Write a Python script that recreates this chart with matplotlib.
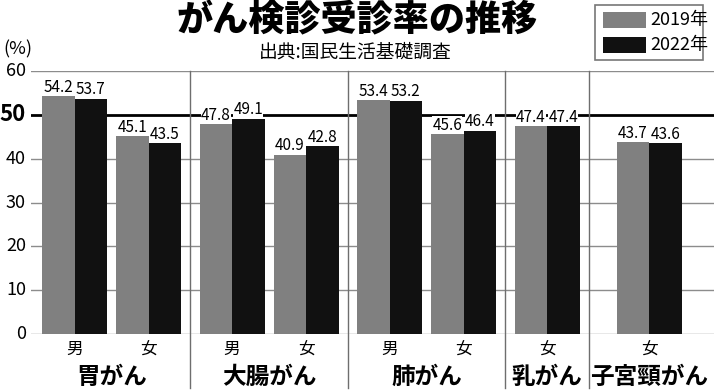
import numpy as np
import matplotlib
matplotlib.use("Agg")
import matplotlib.pyplot as plt
from matplotlib.patches import Rectangle

# data
cancers = ["胃がん", "大腸がん", "肺がん", "乳がん", "子宮頸がん"]
sexes = [["男", "女"], ["男", "女"], ["男", "女"], ["女"], ["女"]]
rate_2019 = [[54.2, 45.1], [47.8, 40.9], [53.4, 45.6], [47.4], [43.7]]
rate_2022 = [[53.7, 43.5], [49.1, 42.8], [53.2, 46.4], [47.4], [43.6]]
years = ["2019年", "2022年"]
yticks = [0, 10, 20, 30, 40, 50, 60]

JP = ["Noto Sans CJK JP", "DejaVu Sans"]
NUM = ["Liberation Sans Narrow", "Noto Sans CJK JP", "DejaVu Sans"]
GRAY = "#808080"
BLACK = "#111111"

W, H = 714, 390
fig = plt.figure(figsize=(W / 100, H / 100), dpi=100)
# axes in pixel layout: x 31..714, y=60 at 71px, y=0 at 334px
ax = fig.add_axes([31 / W, (H - 334) / H, (W - 31) / W, (334 - 71) / H])
ax.set_xlim(31, W)
ax.set_ylim(0, 60)
for s in ax.spines.values():
    s.set_visible(False)
ax.set_xticks([])
ax.set_yticks([])

# gridlines
for t in yticks:
    if t == 50:
        ax.axhline(t, color="black", lw=2.0, zorder=1)
    else:
        ax.axhline(t, color="#8c8c8c", lw=1.0, zorder=1)
    ax.text(26, t, str(t), ha="right", va="center",
            fontsize=16 if t == 50 else 13, fontweight="bold" if t == 50 else "normal",
            family=NUM, clip_on=False)

# bar layout (pixels)
bw = 32.5
pair_gap = 9
group_gap = 18.5
x = 42
seps = []
for gi, (cname, sx, v19, v22) in enumerate(zip(cancers, sexes, rate_2019, rate_2022)):
    if gi == len(cancers) - 1:
        # last group centred in the remaining room
        x = (seps[-1] + W) / 2 - bw - 2
    starts = []
    for k in range(len(sx)):
        starts.append(x)
        x += 2 * bw + pair_gap
    x -= pair_gap
    for k, st in enumerate(starts):
        for j, (val, col) in enumerate([(v19[k], GRAY), (v22[k], BLACK)]):
            ax.bar(st + j * bw, val, width=bw, align="edge", color=col,
                   edgecolor="none", zorder=3)
            ax.text(st + j * bw + bw / 2, val + 1.0, f"{val:.1f}", ha="center",
                    va="baseline", fontsize=11, family=NUM, zorder=4,
                    bbox=dict(facecolor="white", edgecolor="none", pad=0.2))
        ax.text(st + bw, -3.6, sx[k], ha="center", va="center", fontsize=12,
                family=JP, clip_on=False)
    gl = starts[0]
    gr = starts[-1] + 2 * bw
    ax.text((gl + gr) / 2, -9.7, cname, ha="center", va="center", fontsize=17,
            fontweight="bold", family=JP, clip_on=False)
    if gi < len(cancers) - 1:
        sep = x + group_gap / 2
        seps.append(sep)
        x += group_gap

for sp in seps:
    ax.plot([sp, sp], [60, -12.4], color="#6e6e6e", lw=1.0, clip_on=False, zorder=2)

# titles
fig.text(357 / W, 1 - 20 / H, "がん検診受診率の推移", ha="center", va="center",
         fontsize=26, fontweight="black", family=JP)
fig.text(355 / W, 1 - 52 / H, "出典:国民生活基礎調査", ha="center", va="center",
         fontsize=13.5, family=JP)
fig.text(3 / W, 1 - 49 / H, "(%)", ha="left", va="center", fontsize=13, family=JP)

# legend box
fig.add_artist(Rectangle((595 / W, 1 - 60 / H), 108 / W, 55 / H, transform=fig.transFigure,
                         facecolor="white", edgecolor="#777777", lw=1.2))
for i, (lab, col) in enumerate(zip(years, [GRAY, BLACK])):
    yc = 20 + i * 25
    fig.add_artist(Rectangle((603 / W, 1 - (yc + 8) / H), 43 / W, 16 / H,
                             transform=fig.transFigure, facecolor=col, edgecolor="none"))
    fig.text(650 / W, 1 - yc / H, lab, ha="left", va="center", fontsize=13, family=NUM)

fig.savefig("out.png", dpi=100)
